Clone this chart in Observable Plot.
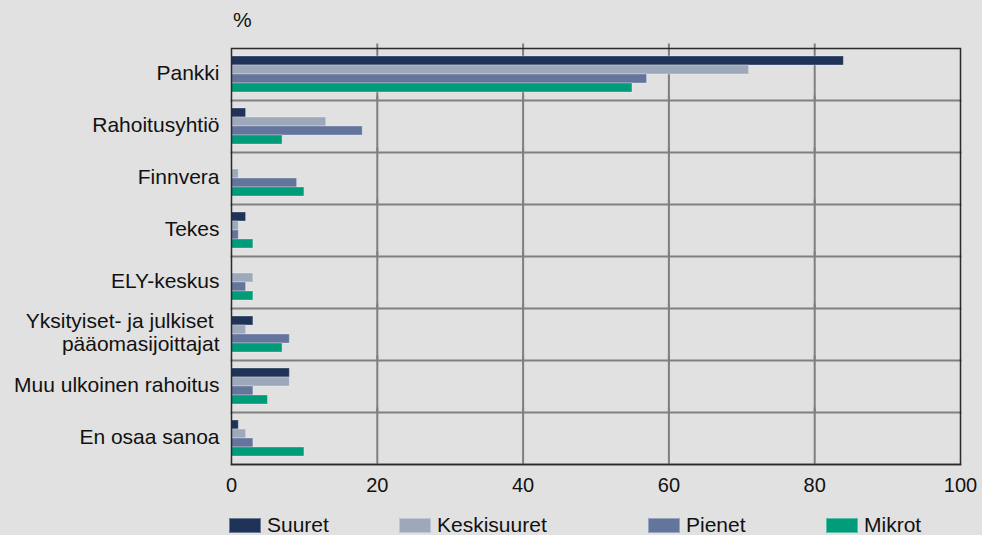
<!DOCTYPE html>
<html>
<head>
<meta charset="utf-8">
<script src="https://cdn.jsdelivr.net/npm/d3@7"></script>
<script src="https://cdn.jsdelivr.net/npm/@observablehq/plot@0.6"></script>
<style>
  html, body { margin: 0; padding: 0; background: #e1e1e1; }
  #wrap { position: relative; width: 982px; height: 535px; font-family: "Liberation Sans", Arial, sans-serif; color: #111; }
  #unit { position: absolute; left: 233px; top: 8px; font-size: 21px; line-height: 24px; }
  #legend { position: absolute; left: 0; top: 505px; width: 982px; height: 30px; }
  .item { position: absolute; top: 10px; height: 20px; display: flex; align-items: center; font-size: 21px; line-height: 20px; }
  .sw { width: 32px; height: 15px; margin-right: 6px; box-sizing: border-box; border: 1px solid rgba(255,255,255,0.35); }
</style>
</head>
<body>
<div id="wrap">
  <div id="chart"></div>
  <div id="unit">%</div>
  <div id="legend"></div>
</div>
<script>
// Funding sources by company size (%)
const categories = [
  "Pankki",
  "Rahoitusyhtiö",
  "Finnvera",
  "Tekes",
  "ELY-keskus",
  "Yksityiset- ja julkiset \npääomasijoittajat",
  "Muu ulkoinen rahoitus",
  "En osaa sanoa"
];
const seriesNames = ["Suuret", "Keskisuuret", "Pienet", "Mikrot"];
const suuret      = [84, 2, 0, 2, 0, 3, 8, 1];
const keskisuuret = [71, 13, 1, 1, 3, 2, 8, 2];
const pienet      = [57, 18, 9, 1, 2, 8, 3, 3];
const mikrot      = [55, 7, 10, 3, 3, 7, 5, 10];
const xTicks = [0, 20, 40, 60, 80, 100];
const colors = ["#1f3359", "#9da8bb", "#63759a", "#009b78"];

const seriesValues = [suuret, keskisuuret, pienet, mikrot];
const data = categories.flatMap((cat, i) =>
  seriesNames.map((s, j) => ({category: cat, series: s, value: seriesValues[j][i]}))
);

const chart = Plot.plot({
  width: 982,
  height: 505,
  marginTop: 42,
  marginLeft: 231,
  marginRight: 22,
  marginBottom: 39,
  style: {background: "#e1e1e1", fontFamily: "Liberation Sans, Arial, sans-serif", fontSize: "20px", color: "#111"},
  x: {domain: [0, 100], ticks: xTicks},
  fy: {domain: categories, padding: 0, insetTop: 4.5, label: null},
  y: {domain: seriesNames, paddingInner: 0, paddingOuter: 0.73, axis: null},
  color: {domain: seriesNames, range: colors},
  marks: [
    Plot.gridX({ticks: xTicks.slice(1, -1), stroke: "#7f7f7f", strokeOpacity: 1, strokeWidth: 2, insetTop: -4.5}),
    Plot.frame({anchor: "bottom", stroke: "#808080", strokeWidth: 2}),
    Plot.barX(data, {
      fy: "category", y: "series", x: "value", fill: "series",
      stroke: "#ffffff", strokeOpacity: 0.3, strokeWidth: 1
    }),
    Plot.frame({facet: "super", stroke: "#2a2a2a", strokeWidth: 1.5}),
    Plot.axisX({ticks: xTicks, tickSize: 0, tickPadding: 13, label: null, fontSize: 20}),
    Plot.axisFy({anchor: "left", tickSize: 0, tickPadding: 12, label: null, fontSize: 21, lineHeight: 1.1, dy: -2})
  ]
});
document.getElementById("chart").appendChild(chart);

// Legend row
const legendX = [229, 399, 648, 826];
const legend = document.getElementById("legend");
seriesNames.forEach((name, i) => {
  const item = document.createElement("div");
  item.className = "item";
  item.style.left = legendX[i] + "px";
  const sw = document.createElement("span");
  sw.className = "sw";
  sw.style.background = colors[i];
  const label = document.createElement("span");
  label.textContent = name;
  item.appendChild(sw);
  item.appendChild(label);
  legend.appendChild(item);
});
</script>
</body>
</html>
